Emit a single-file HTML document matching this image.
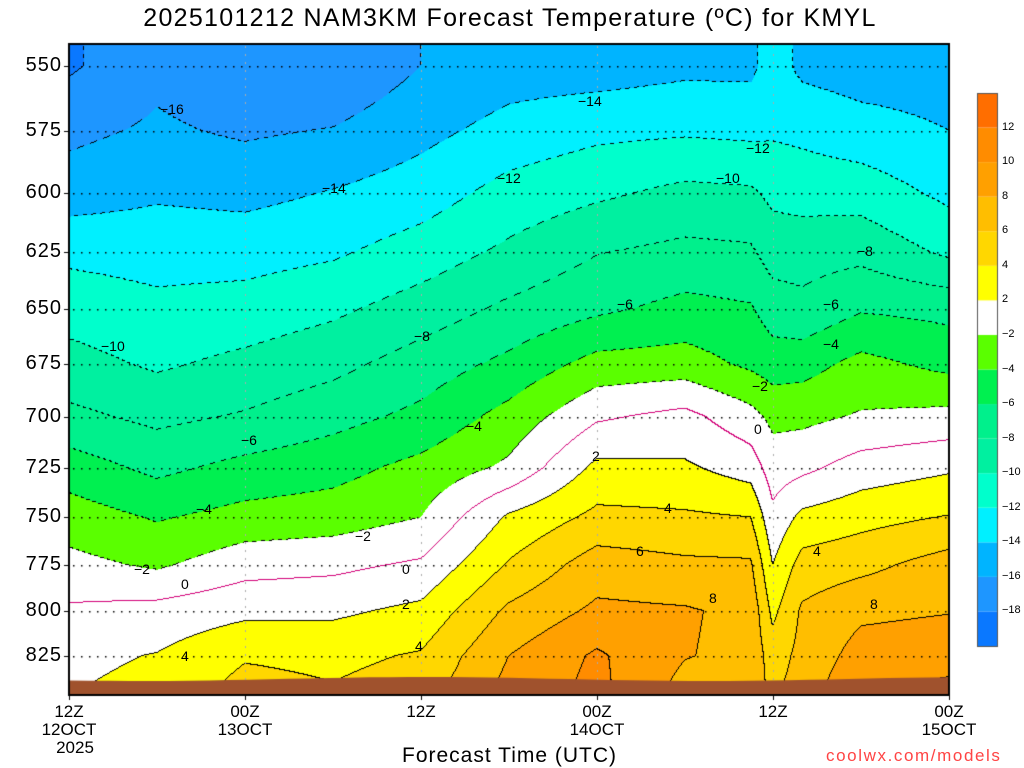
<!DOCTYPE html>
<html><head><meta charset="utf-8"><style>
body{margin:0;background:#fff;width:1024px;height:768px;overflow:hidden;position:relative;font-family:"Liberation Sans",sans-serif}
.t{position:absolute;color:#000;white-space:nowrap}
.cl{background:transparent;padding:0 1px}
</style></head><body>
<div class="t" style="left:0;width:1020px;text-align:center;top:4px;font-size:25px;letter-spacing:1.3px">2025101212 NAM3KM Forecast Temperature (ºC) for KMYL</div>
<canvas id="c" width="1024" height="768" style="position:absolute;left:0;top:0"></canvas>
<div id="labels"></div>
<div class="t" style="left:402px;top:744px;font-size:21px;letter-spacing:1px">Forecast Time (UTC)</div>
<div class="t" style="left:826px;top:746px;font-size:17px;color:#ff4444;letter-spacing:1.6px">coolwx.com/models</div>
<script>
const times=[0,6,12,18,24,30,36,42,46.5,48,50,54,60];
const levels=[550,575,600,625,650,675,700,725,750,775,800,825,840];
// temperature columns (one per time), values at each pressure level
const T0=[-18.3,-16.5,-15,-12.5,-10.8,-9.3,-7.5,-5,-3,-1.4,0.3,1.5,1.8];
const T6=[-16.5,-15.7,-14.3,-12.8,-11.5,-10.3,-8.5,-6.5,-4.2,-2.3,0.7,2.1,2.5];
const T12=[-17.5,-16.3,-14.6,-12.8,-11.2,-9.5,-7.8,-5.4,-3.3,-0.8,1.5,3.8,4.5];
const T18=[-17.8,-15.9,-13.9,-12.3,-10.4,-8.6,-6.7,-4.7,-3,-0.5,1.6,3.5,4];
const T24=[-16,-14.6,-13,-11.1,-9.1,-7.1,-5.5,-3.4,-2,0.3,2.5,4.2,4.8];
const T30=[-15,-13.3,-11.3,-9.6,-7.6,-5.5,-3.3,-1.6,2.3,4.2,6.4,8,8.5];
const T36=[-15,-12.5,-10.4,-8.1,-6.4,-3.3,-0.3,2.5,4.5,7,8.4,10.3,10.5];
const T42=[-14.5,-12.3,-9.5,-7.5,-5.4,-3.1,0.6,2.3,4.3,6.4,8.2,8.1,7.5];
const T46=[-14.5,-12.5,-9.7,-7.7,-5.8,-4.4,-1.3,1.1,4,6.3,7.5,7.5,7];
const T48=[-13,-12.3,-10.5,-8.9,-7,-5,-2.5,-1,0.5,2,3.5,5,5.5];
const T50=[-14.5,-12.5,-10.8,-8.8,-7.5,-4.8,-2.5,-0.5,2.5,4.8,6.3,6.6,6.8];
const T54=[-15,-13.2,-10.9,-8.6,-6.2,-3.4,-1.8,0.9,3.3,5.4,7.6,8.8,9.6];
const T60=[-15,-14,-12.5,-10.4,-6.6,-4.6,-1.4,1.7,4.1,6.9,7.9,9.2,10.2];
const cols=[T0,T6,T12,T18,T24,T30,T36,T42,T46,T48,T50,T54,T60];
const bounds=[-18,-16,-14,-12,-10,-8,-6,-4,-2,2,4,6,8,10,12];
const colors=['#0a78ff','#1e96ff','#00b4ff','#00f0ff','#00ffcc','#00f0a0','#00f08c','#00f050','#5aff00','#ffffff','#ffff00','#ffd700','#ffbe00','#ffa000','#ff8c00','#ff6e00'];
const yTicks=[550,575,600,625,650,675,700,725,750,775,800,825];
const xTicks=[0,12,24,36,48,60];
const xLab1=['12Z','00Z','12Z','00Z','12Z','00Z'];
const xLab2=['12OCT','13OCT','','14OCT','','15OCT'];

const X0=69,X1=949,Y0=44,Y1=695;
const xs=h=>X0+(X1-X0)*h/60;
const ys=p=>66+(Math.log(p)-Math.log(550))*1455;
const pAt=y=>Math.exp(Math.log(550)+(y-66)/1455);
const hAt=x=>(x-X0)/(X1-X0)*60;
function interp(arr,v){
  if(v<=arr[0])return [0,0,0];
  for(let i=0;i<arr.length-1;i++){if(v<=arr[i+1])return [i,i+1,(v-arr[i])/(arr[i+1]-arr[i])];}
  const n=arr.length-1;return [n,n,0];
}
function temp(h,p){
  const [a,b,f]=interp(times,h);const [i,j,g]=interp(levels,p);
  const ca=cols[a],cb=cols[b];
  const va=ca[i]+(ca[j]-ca[i])*g, vb=cb[i]+(cb[j]-cb[i])*g;
  return va+(vb-va)*f;
}
function band(t){let k=0;while(k<bounds.length&&t>=bounds[k])k++;return k;}
const ctx=document.getElementById('c').getContext('2d');
const W=X1-X0,H=Y1-Y0;
const img=ctx.createImageData(W,H);
const Tg=new Float32Array(W*H);
function hex(c){return [parseInt(c.substr(1,2),16),parseInt(c.substr(3,2),16),parseInt(c.substr(5,2),16)];}
const rgb=colors.map(hex);
for(let y=0;y<H;y++){const p=pAt(Y0+y+0.5);for(let x=0;x<W;x++){
  const t=temp(hAt(X0+x+0.5),p);Tg[y*W+x]=t;const c=rgb[band(t)];const o=(y*W+x)*4;
  img.data[o]=c[0];img.data[o+1]=c[1];img.data[o+2]=c[2];img.data[o+3]=255;}}
for(let y=0;y<H-1;y++){for(let x=0;x<W-1;x++){
  const k=Math.floor(Tg[y*W+x]/2),kr=Math.floor(Tg[y*W+x+1]/2),kd=Math.floor(Tg[(y+1)*W+x]/2);
  if(k!==kr||k!==kd){const lv=2*Math.max(k,kr,kd);let c=null;
    if(lv<0){if(((x+y)>>2)%2===0)c=[0,0,0];}else if(lv===0)c=[210,0,120];else c=[0,0,0];
    if(c){const o=(y*W+x)*4;img.data[o]=c[0];img.data[o+1]=c[1];img.data[o+2]=c[2];}}
}}
ctx.putImageData(img,X0,Y0);
ctx.fillStyle='#000';
yTicks.forEach(p=>{const y=Math.round(ys(p));for(let x=X0+4;x<X1;x+=8)ctx.fillRect(x,y,1.5,1.5);});
ctx.fillStyle='#aaa';
xTicks.slice(1,5).forEach(h=>{const x=Math.round(xs(h));for(let y=Y0+2;y<Y1;y+=8)ctx.fillRect(x,y,1,2);});
ctx.fillStyle='#a0522d';ctx.beginPath();ctx.moveTo(X0,Y1);
for(let x=X0;x<=X1;x+=20){ctx.lineTo(x,679+2*Math.sin(x/90));}
ctx.lineTo(X1,Y1);ctx.fill();
ctx.strokeStyle='#000';ctx.lineWidth=2;ctx.strokeRect(X0,Y0,W,H);
ctx.lineWidth=1;
yTicks.forEach(p=>{const y=Math.round(ys(p))+0.5;ctx.beginPath();ctx.moveTo(X0-5,y);ctx.lineTo(X0,y);ctx.stroke();});
xTicks.forEach(h=>{const x=Math.round(xs(h))+0.5;ctx.beginPath();ctx.moveTo(x,Y1);ctx.lineTo(x,Y1+5);ctx.stroke();});
const CB0=93,CB1=646,bh=(CB1-CB0)/16;
colors.forEach((c,i)=>{ctx.fillStyle=c;ctx.fillRect(977,CB1-(i+1)*bh,20,bh);});
ctx.strokeStyle='#555';ctx.strokeRect(977.5,CB0+0.5,20,CB1-CB0);
const L=document.getElementById('labels');
function lab(txt,x,y,fs,name,align,ls){const d=document.createElement('div');d.className='t';d.textContent=txt;
  
  
  d.style.fontSize=fs+'px';d.style.top=y+'px';if(ls)d.style.letterSpacing=ls+'px';
  if(align==='r'){d.style.right=(1024-x)+'px';}else if(align==='c'){d.style.left=(x-45)+'px';d.style.width='90px';d.style.textAlign='center';}else d.style.left=x+'px';
  L.appendChild(d);}
yTicks.forEach(p=>lab(String(p),62,ys(p)-12,20,'y-tick-label','r',1));
xTicks.forEach((h,i)=>{const x=xs(h);lab(xLab1[i],x,702,17,'x-tick-label','c');if(xLab2[i])lab(xLab2[i],x,720,17,'x-date-label','c');});
lab('2025',75,738,17,'x-year-label','c');
bounds.forEach((b,i)=>{const y=CB1-(i+1)*bh;lab((b<0?'\u2212':'')+Math.abs(b),1002,y-7,11,'colorbar-label','l');});
[['-16',160,101],['-14',322,180],['-12',497,170],['-10',716,170],['-14',578,93],['-12',746,140],['-10',101,338],['-8',414,328],['-6',617,296],['-8',857,243],['-6',823,296],['-4',823,336],['-6',241,432],['-4',196,501],['-4',466,418],['-2',134,561],['-2',752,378],['-2',355,528],['0',181,576],['0',402,561],['0',754,421],['2',402,596],['2',592,448],['4',181,648],['4',415,638],['4',664,500],['4',813,543],['6',636,543],['8',709,590],['8',870,596]].forEach(a=>lab(a[0].replace('-','\u2212'),a[1],a[2],14,'contour-label','l'));
</script>
</body></html>
